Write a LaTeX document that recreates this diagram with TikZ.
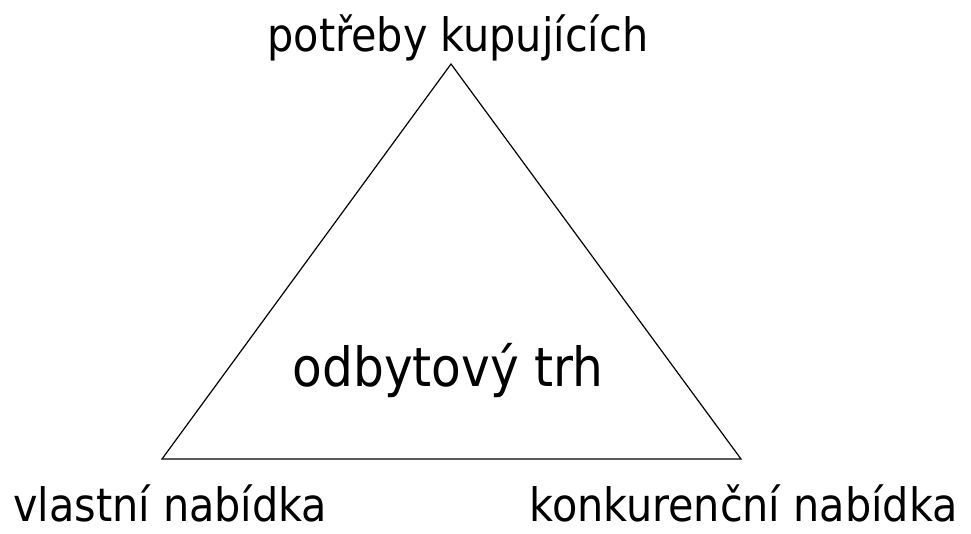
\documentclass[tikz,border=0pt]{standalone}
\usepackage{fontspec}
\setmainfont{DejaVu Sans Condensed}
\begin{document}
\begin{tikzpicture}[x=1pt,y=-1pt,
    popis/.style={inner sep=0pt,font=\fontsize{46}{50}\selectfont}]
        \useasboundingbox (0,0) rectangle (971,533);

        \coordinate (vrchol) at (451,64);
        \coordinate (levy) at (162,459);
        \coordinate (pravy) at (741,459);
        \draw[line width=1.2pt,line join=miter] (vrchol) -- (levy) -- (pravy) -- cycle;

        \node[popis,anchor=base] (potreby) at (458,51) {potřeby kupujících};
        \node[popis,anchor=base,font=\fontsize{54}{58}\selectfont] (trh) at (448,386) {odbytový trh};
        \node[popis,anchor=base west] (vlastni) at (13,521) {vlastní nabídka};
        \node[popis,anchor=base east] (konkurence) at (958,521) {konkurenční nabídka};
    \end{tikzpicture}
\end{document}
